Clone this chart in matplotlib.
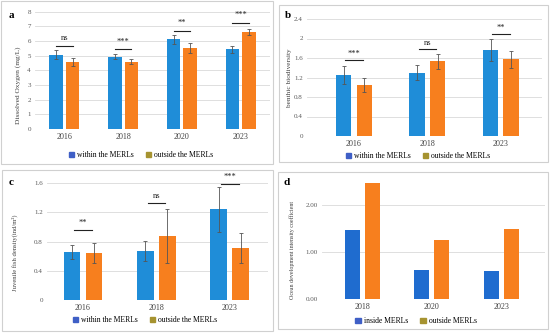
import matplotlib.pyplot as plt
import numpy as np
from matplotlib.patches import Rectangle, Patch

plt.rcParams['font.family'] = ['Liberation Serif', 'DejaVu Serif']

# panel a: dissolved oxygen
years_a = ["2016", "2018", "2020", "2023"]
do_in = [5.06, 4.94, 6.12, 5.44]
do_in_err = [0.30, 0.18, 0.30, 0.23]
do_out = [4.60, 4.60, 5.51, 6.60]
do_out_err = [0.27, 0.18, 0.34, 0.20]
sig_a = ["ns", "***", "**", "***"]
sig_a_y = [5.67, 5.44, 6.71, 7.26]

# panel b: benthic biodiversity
years_b = ["2016", "2018", "2023"]
bb_in = [1.25, 1.30, 1.76]
bb_in_err = [0.18, 0.15, 0.22]
bb_out = [1.05, 1.53, 1.57]
bb_out_err = [0.14, 0.15, 0.17]
sig_b = ["***", "ns", "**"]
sig_b_y = [1.55, 1.78, 2.09]

# panel c: juvenile fish density
years_c = ["2016", "2018", "2023"]
jf_in = [0.655, 0.668, 1.24]
jf_in_err = [0.10, 0.14, 0.31]
jf_out = [0.645, 0.88, 0.71]
jf_out_err = [0.14, 0.37, 0.21]
sig_c = ["**", "ns", "***"]
sig_c_y = [0.96, 1.33, 1.59]

# panel d: ocean development intensity
years_d = ["2018", "2020", "2023"]
od_in = [1.46, 0.62, 0.59]
od_out = [2.46, 1.26, 1.48]

W, H = 550, 336
fig = plt.figure(figsize=(5.5, 3.36), dpi=100)

BLUE = "#1f8dd8"
ORANGE = "#f77f1e"
LEG_BLUE = "#3f5fc6"
LEG_OLIVE = "#a69330"
GRID = "#d9d9d9"
TXT = "#404040"


def px_axes(x0, x1, ytop, ybot):
    return fig.add_axes([x0 / W, 1 - ybot / H, (x1 - x0) / W, (ybot - ytop) / H])


def style(ax, ylim, yticks, ylabels, xlim, years, ysize=5):
    ax.set_ylim(*ylim)
    ax.set_xlim(*xlim)
    ax.set_yticks(yticks)
    ax.set_yticklabels(ylabels, fontsize=ysize, color="#595959")
    ax.set_xticks(range(len(years)))
    ax.set_xticklabels(years, fontsize=5.8, color=TXT)
    ax.tick_params(length=0, pad=3)
    for s in ax.spines.values():
        s.set_visible(False)
    ax.grid(axis="y", color=GRID, lw=0.6)
    ax.set_axisbelow(True)


def bars(ax, vin, vout, ein, eout, width, off, cin=BLUE, cout=ORANGE):
    x = np.arange(len(vin))
    ax.bar(x - off, vin, width, color=cin, zorder=2)
    ax.bar(x + off, vout, width, color=cout, zorder=2)
    if ein is not None:
        ax.errorbar(x - off, vin, yerr=ein, fmt="none", ecolor="#555555",
                    elinewidth=0.6, capsize=1.5, capthick=0.6, zorder=3)
        ax.errorbar(x + off, vout, yerr=eout, fmt="none", ecolor="#555555",
                    elinewidth=0.6, capsize=1.5, capthick=0.6, zorder=3)


def sig(ax, labels, ys, half, dy):
    for i, (lab, y) in enumerate(zip(labels, ys)):
        ax.plot([i - half, i + half], [y, y], color="#222222", lw=0.8, zorder=4)
        ax.text(i, y + dy, lab, ha="center", va="bottom", fontsize=6, color="#222222")


def legend(labels, cx, cy, colors=(LEG_BLUE, LEG_OLIVE)):
    handles = [Patch(color=colors[0]), Patch(color=colors[1])]
    fig.legend(handles, labels, loc="center", bbox_to_anchor=(cx / W, 1 - cy / H),
               ncol=2, frameon=False, fontsize=5.5, handlelength=0.7,
               handleheight=0.7, handletextpad=0.4, columnspacing=1.6)


# panel frames
for (x, y, w, h) in [(1, 1, 272, 163), (279, 5, 269, 157), (2, 170, 271, 161), (278, 172, 270, 157)]:
    fig.add_artist(Rectangle((x / W, 1 - (y + h) / H), w / W, h / H, transform=fig.transFigure,
                             fill=False, ec="#d0d0d0", lw=0.8))

# a
ax = px_axes(35, 270, 11.7, 129)
style(ax, (0, 8), range(9), [str(v) for v in range(9)], (-0.5, 3.5), years_a)
bars(ax, do_in, do_out, do_in_err, do_out_err, 0.23, 0.14)
sig(ax, sig_a, sig_a_y, 0.14, 0.25)
fig.text(18 / W, 1 - 85 / H, "Dissolved Oxygen (mg/L)", rotation=90, ha="center", va="center",
         fontsize=5.3, color=TXT)
fig.text(9 / W, 1 - 15 / H, "a", fontsize=8, fontweight="bold", va="center")
legend(["within the MERLs", "outside the MERLs"], 141, 155)

# b
ax = px_axes(307, 542, 19, 136)
yb = [0, 0.4, 0.8, 1.2, 1.6, 2.0, 2.4]
style(ax, (0, 2.4), yb, ["0", "0.4", "0.8", "1.2", "1.6", "2", "2.4"], (-0.64, 2.56), years_b)
bars(ax, bb_in, bb_out, bb_in_err, bb_out_err, 0.21, 0.14)
sig(ax, sig_b, sig_b_y, 0.12, 0.05)
fig.text(290 / W, 1 - 78 / H, "benthic biodiversity", rotation=90, ha="center", va="center",
         fontsize=5.2, color=TXT)
fig.text(285 / W, 1 - 15 / H, "b", fontsize=8, fontweight="bold", va="center")
legend(["within the MERLs", "outside the MERLs"], 418, 156)

# c
ax = px_axes(47, 268, 183, 300)
yc = [0, 0.4, 0.8, 1.2, 1.6]
style(ax, (0, 1.6), yc, ["0", "0.4", "0.8", "1.2", "1.6"], (-0.49, 2.52), years_c)
bars(ax, jf_in, jf_out, jf_in_err, jf_out_err, 0.23, 0.15)
sig(ax, sig_c, sig_c_y, 0.12, 0.035)
fig.text(15 / W, 1 - 253 / H, "Juvenile fish density(ind/m\u00b2)", rotation=90, ha="center",
         va="center", fontsize=4.8, color=TXT)
fig.text(9 / W, 1 - 183 / H, "c", fontsize=8, fontweight="bold", va="center")
legend(["within the MERLs", "outside the MERLs"], 145, 320)

# d
ax = px_axes(322, 545, 181, 299)
style(ax, (0, 2.5), [0, 1, 2], ["0.00", "1.00", "2.00"], (-0.58, 2.63), years_d)
bars(ax, od_in, od_out, None, None, 0.22, 0.145, cin="#1f6ccf")
fig.text(292 / W, 1 - 250 / H, "Ocean development intensity coefficient", rotation=90,
         ha="center", va="center", fontsize=4.3, color=TXT)
fig.text(283 / W, 1 - 183 / H, "d", fontsize=8, fontweight="bold", va="center")
legend(["inside MERLs", "outside MERLs"], 416, 321)

fig.savefig("out.png", dpi=100, facecolor="white")
